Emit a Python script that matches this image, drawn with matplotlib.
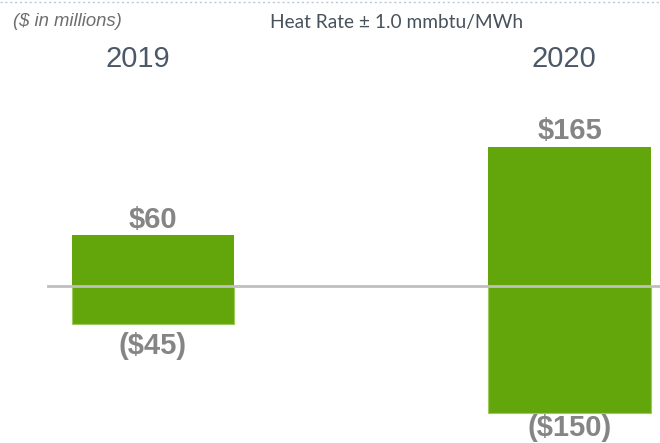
import matplotlib.pyplot as plt
from matplotlib.lines import Line2D

# data
years = ['2019', '2020']
upside = [60, 165]
downside = [-45, -150]
up_labels = ['$60', '$165']
down_labels = ['($45)', '($150)']

green = '#63A60B'
label_grey = '#858585'
year_col = '#4A5868'

plt.rcParams['font.family'] = ['Liberation Sans', 'DejaVu Sans']

fig = plt.figure(figsize=(6.6, 4.43), dpi=100)
ax = fig.add_axes([0, 0, 1, 1])
ax.axis('off')

x = list(range(len(years)))
w = 0.39
ax.bar(x, upside, width=w, color=green, edgecolor='none', zorder=2)
ax.bar(x, downside, width=w, color=green, edgecolor='#9BCB5A', linewidth=0.8, zorder=2)
ax.axhline(0, xmin=0.073, xmax=1, color='#BFBFBF', lw=2, zorder=3)

# the 2020 low label is squeezed against the bottom edge
down_pad = [-6, -1]
year_shift = [-11, -4]

for i in x:
    ax.annotate(up_labels[i], (i, upside[i]), xytext=(0, 1), textcoords='offset points',
                ha='center', va='bottom', fontsize=21, fontweight='bold', color=label_grey)
    ax.annotate(down_labels[i], (i, downside[i]), xytext=(0, down_pad[i]), textcoords='offset points',
                ha='center', va='top', fontsize=21, fontweight='bold', color=label_grey,
                annotation_clip=False)
    ax.annotate(years[i], (i, 1 - 67 / 443), xycoords=('data', 'figure fraction'),
                xytext=(year_shift[i], 0), textcoords='offset points',
                ha='center', va='baseline', fontsize=21, color=year_col, annotation_clip=False)

ax.set_xlim(-0.367, 1.217)
ax.set_ylim(-185.8, 338.5)

fig.text(13 / 660, 1 - 26 / 443, '($ in millions)', fontsize=13.3, style='italic',
         color='#6E6E6E', ha='left', va='baseline')
fig.text(270 / 660, 1 - 28 / 443, 'Heat Rate ± 1.0 mmbtu/MWh', fontsize=13.8,
         family=['Lato', 'DejaVu Sans'], color='#48525C', ha='left', va='baseline')

fig.add_artist(Line2D([0, 1], [1 - 2 / 443, 1 - 2 / 443], transform=fig.transFigure,
                      color='#B9C8D6', lw=1, linestyle=(0, (1.5, 2))))

fig.savefig('out.png', dpi=100)
